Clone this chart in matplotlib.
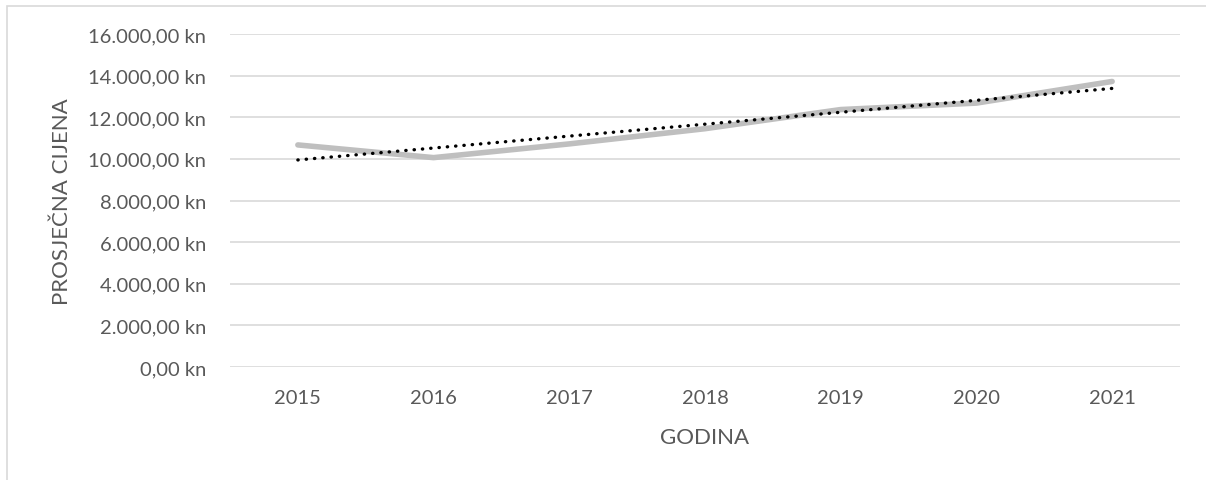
import numpy as np
import matplotlib
matplotlib.use("Agg")
import matplotlib.pyplot as plt
from matplotlib.patches import Rectangle

years = ["2015", "2016", "2017", "2018", "2019", "2020", "2021"]
prices = [10670, 10060, 10720, 11450, 12370, 12680, 13720]
yticks = [0, 2000, 4000, 6000, 8000, 10000, 12000, 14000, 16000]

def fmt(v):
    s = f"{v:,.2f}".replace(",", "X").replace(".", ",").replace("X", ".")
    return s + " kn"

plt.rcParams['font.family'] = ['Lato', 'DejaVu Sans']
W, H = 1206, 481
fig = plt.figure(figsize=(W/100, H/100), dpi=100)
ax = fig.add_axes([230/W, 1-368/H, (1180-230)/W, (368-35)/H])

x = np.arange(len(years))
ax.plot(x, prices, color='#BFBFBF', lw=4.0, solid_capstyle='round', zorder=3)
coef = np.polyfit(x, prices, 1)
ax.plot(x, np.polyval(coef, x), color='black', lw=2.4,
        linestyle=(0, (0.1, 2.4)), dash_capstyle='round', zorder=4)

ax.set_xlim(-0.5, len(years) - 0.5)
ax.set_ylim(0, 16000)
ax.set_yticks(yticks)
ax.set_yticklabels([fmt(v) for v in yticks])
ax.set_xticks(x)
ax.set_xticklabels(years)
ax.grid(axis='y', color='#D9D9D9', lw=1.2)
ax.set_axisbelow(True)
for s in ax.spines.values():
    s.set_visible(False)
ax.tick_params(length=0, labelsize=14.5, colors='#595959', pad=17)
ax.tick_params(axis='x', pad=16)
ax.set_xlabel("GODINA", fontsize=16, color='#595959', labelpad=15)
ax.set_ylabel("PROSJEČNA CIJENA", fontsize=16, color='#595959', labelpad=12)

fig.patches.append(Rectangle((7/W, -0.1), 1.1, 1 - 7/H + 0.1, transform=fig.transFigure,
                             fill=False, edgecolor='#D9D9D9', lw=1.2))
fig.savefig("out.png", dpi=100)
